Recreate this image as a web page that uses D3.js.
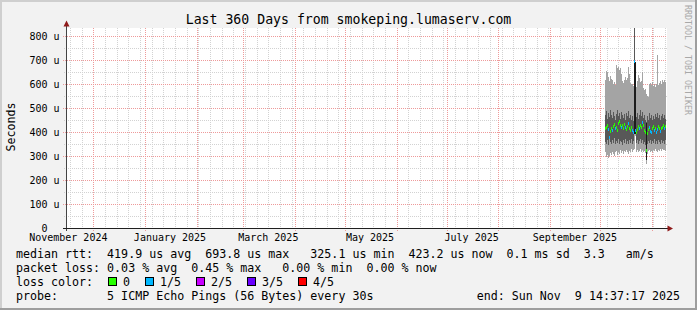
<!DOCTYPE html>
<html>
<head>
<meta charset="utf-8">
<script src="https://cdn.jsdelivr.net/npm/d3@7"></script>
<style>
body { margin: 0; background: #f2f2f2; }
svg text { font-family: "DejaVu Sans Mono", monospace; white-space: pre; }
</style>
</head>
<body>
<div class="chart"></div>
<script>
var endTime = new Date(2025, 10, 9, 14, 37, 17);
var startTime = new Date(endTime.getTime() - 360 * 86400000);
// first smoke column and the width of one consolidated step (14.4 h)
var smokeStart = new Date(2025, 9, 4, 0, 13);
var stepMs = 51840000;

// values in microseconds, one per step
var outerHi = [617, 655, 648, 630, 612, 635, 622, 618, 600, 608,
    596, 678, 665, 672, 660, 668, 640, 612, 604, 618,
    630, 615, 625, 672, 640, 605, 598, 602, 590, 833.3,
    590, 588, 612, 638, 625, 608, 612, 652, 585, 575,
    580, 560, 550, 545, 600, 606, 595, 610, 590, 598,
    588, 602, 720, 596, 605, 612, 598, 615, 608, 618, 610];
var innerHi = [470, 488, 455, 478, 462, 490, 470, 458, 482, 466,
    450, 474, 492, 468, 478, 455, 485, 470, 460, 476,
    448, 480, 465, 488, 458, 470, 452, 466, 445, 833.3,
    470, 462, 478, 456, 472, 490, 465, 482, 458, 470,
    448, 440, 466, 452, 478, 460, 472, 448, 468, 455,
    474, 462, 480, 458, 470, 452, 468, 475, 460, 472, 456];
var median = [415, 422, 428, 412, 380, 405, 418, 410, 425, 432,
    415, 420, 410, 438, 444, 430, 422, 428, 415, 432,
    420, 412, 424, 436, 418, 410, 422, 408, 402, 693.8,
    408, 400, 412, 425, 418, 430, 420, 442, 428, 410,
    398, 325.1, 395, 412, 420, 405, 398, 415, 425, 410,
    418, 402, 412, 425, 418, 405, 415, 422, 428, 418, 423.2];
var innerLo = [360, 352, 368, 345, 372, 358, 350, 366, 356, 374,
    348, 362, 355, 370, 350, 364, 358, 346, 368, 355,
    372, 352, 362, 348, 366, 356, 370, 352, 362, 390,
    392, 355, 368, 350, 362, 372, 354, 366, 350, 360,
    345, 290, 350, 362, 355, 368, 350, 364, 356, 370,
    352, 362, 348, 366, 358, 352, 368, 356, 362, 350, 366];
var outerLo = [318, 296, 305, 290, 300, 312, 305, 318, 308, 300,
    315, 322, 305, 318, 310, 325, 312, 320, 308, 322,
    315, 326, 318, 310, 322, 316, 328, 318, 325, 330,
    385, 318, 326, 315, 322, 330, 318, 325, 316, 320,
    312, 268, 308, 320, 325, 315, 322, 318, 326, 320,
    330, 322, 318, 326, 320, 328, 322, 330, 324, 326, 320];
// lost pings out of 5 for each step
var lossIdx = [0, 0, 0, 1, 1, 0, 0, 1, 0, 0,
    1, 0, 0, 0, 0, 0, 1, 0, 0, 0,
    1, 0, 0, 1, 0, 0, 0, 1, 1, 1,
    1, 0, 0, 0, 1, 0, 0, 1, 0, 0,
    0, 0, 0, 0, 1, 1, 1, 0, 0, 1,
    0, 1, 1, 0, 0, 1, 0, 0, 0, 1, 0];

// steps where the smoke goes black
var peakCols = [29, 30, 41];
var peakLo = [392, 392, 283];
var peakHi = [693.8, 690, 437];

var yTicks = [0, 100, 200, 300, 400, 500, 600, 700, 800];
var yTickLabels = ["0  ", "100 u", "200 u", "300 u", "400 u", "500 u", "600 u", "700 u", "800 u"];
var monthLabels = ["November 2024", "January 2025", "March 2025", "May 2025", "July 2025", "September 2025"];

var lossNames = ["0", "1/5", "2/5", "3/5", "4/5"];
var lossColors = ["#26ff00", "#00b8ff", "#c800ff", "#6a00ff", "#ff0000"];

var title = "Last 360 Days from smokeping.lumaserv.com";
var legendLines = [
    "median rtt:  419.9 us avg  693.8 us max   325.1 us min  423.2 us now  0.1 ms sd  3.3   am/s",
    "packet loss: 0.03 % avg  0.45 % max   0.00 % min  0.00 % now",
    "loss color:",
    "probe:       5 ICMP Echo Pings (56 Bytes) every 30s"
];
var endLabel = "end: Sun Nov  9 14:37:17 2025";

var W = 697, H = 310;
var plotL = 66, plotR = 666, plotT = 28, plotB = 228;

var svg = d3.select(".chart")
    .append("svg")
    .attr("width", W)
    .attr("height", H)

svg.append("rect")
    .attr("width", W)
    .attr("height", H)
    .attr("fill", "#f2f2f2")

// frame
svg.append("rect").attr("x", 0).attr("y", 0).attr("width", W).attr("height", 2).attr("fill", "#cfcfcf")
svg.append("rect").attr("x", 0).attr("y", 0).attr("width", 2).attr("height", H).attr("fill", "#cfcfcf")
svg.append("rect").attr("x", 0).attr("y", H - 2).attr("width", W).attr("height", 2).attr("fill", "#9e9e9e")
svg.append("rect").attr("x", W - 2).attr("y", 0).attr("width", 2).attr("height", H).attr("fill", "#9e9e9e")

svg.append("rect")
    .attr("x", plotL)
    .attr("y", plotT)
    .attr("width", plotR - plotL + 1)
    .attr("height", plotB - plotT)
    .attr("fill", "white")

var x = d3.scaleTime()
    .domain([startTime, endTime])
    .range([plotL, plotR])

var y = d3.scaleLinear()
    .domain([0, d3.max(outerHi)])
    .range([plotB, plotT])

// grid
var minorY = d3.range(50, y.domain()[1], 100);
svg.selectAll(".minorY")
    .data(minorY)
    .enter().append("line")
    .attr("x1", plotL - 2)
    .attr("x2", plotR + 1)
    .attr("y1", function(d) { return Math.round(y(d)) + 0.5; })
    .attr("y2", function(d) { return Math.round(y(d)) + 0.5; })
    .attr("stroke", "#d2d2d2")
    .attr("stroke-dasharray", "1,1")

var weeks = d3.timeSunday.range(startTime, endTime);
svg.selectAll(".minorX")
    .data(weeks)
    .enter().append("line")
    .attr("x1", function(d) { return Math.round(x(d)) + 0.5; })
    .attr("x2", function(d) { return Math.round(x(d)) + 0.5; })
    .attr("y1", plotT)
    .attr("y2", plotB + 2)
    .attr("stroke", "#d2d2d2")
    .attr("stroke-dasharray", "1,1")

svg.selectAll(".majorY")
    .data(yTicks.slice(1))
    .enter().append("line")
    .attr("x1", plotL - 3)
    .attr("x2", plotR + 1)
    .attr("y1", function(d) { return Math.round(y(d)) + 0.5; })
    .attr("y2", function(d) { return Math.round(y(d)) + 0.5; })
    .attr("stroke", "#ee9a9a")
    .attr("stroke-dasharray", "1,1")

var months = d3.timeMonth.range(startTime, endTime);
svg.selectAll(".majorX")
    .data(months)
    .enter().append("line")
    .attr("x1", function(d) { return Math.round(x(d)) + 0.5; })
    .attr("x2", function(d) { return Math.round(x(d)) + 0.5; })
    .attr("y1", plotT)
    .attr("y2", plotB + 3)
    .attr("stroke", "#ee9a9a")
    .attr("stroke-dasharray", "1,1")

// smoke
function colX(i) { return Math.round(x(new Date(smokeStart.getTime() + i * stepMs))); }
function colW(i) { return Math.max(1, colX(i + 1) - colX(i)); }

var smoke = svg.append("g").attr("shape-rendering", "crispEdges");

smoke.selectAll(".outer")
    .data(outerHi)
    .enter().append("rect")
    .attr("x", function(d, i) { return colX(i); })
    .attr("width", function(d, i) { return colW(i); })
    .attr("y", function(d) { return y(d); })
    .attr("height", function(d, i) { return y(outerLo[i]) - y(d); })
    .attr("fill", "#a4a4a4")

smoke.selectAll(".inner")
    .data(innerHi)
    .enter().append("rect")
    .attr("x", function(d, i) { return colX(i); })
    .attr("width", function(d, i) { return colW(i); })
    .attr("y", function(d) { return y(d); })
    .attr("height", function(d, i) { return y(innerLo[i]) - y(d); })
    .attr("fill", "#585858")

smoke.selectAll(".peak")
    .data(peakCols)
    .enter().append("rect")
    .attr("x", function(d) { return colX(d); })
    .attr("width", function(d) { return colW(d); })
    .attr("y", function(d, i) { return y(peakHi[i]); })
    .attr("height", function(d, i) { return y(peakLo[i]) - y(peakHi[i]); })
    .attr("fill", "#1c1c1c")

smoke.selectAll(".median")
    .data(median)
    .enter().append("rect")
    .attr("x", function(d, i) { return colX(i); })
    .attr("width", function(d, i) { return colW(i); })
    .attr("y", function(d) { return Math.round(y(d)) - 1; })
    .attr("height", 3)
    .attr("fill", function(d, i) { return lossColors[lossIdx[i]]; })

// axes
svg.append("line")
    .attr("x1", plotL + 0.5).attr("x2", plotL + 0.5)
    .attr("y1", plotB + 3).attr("y2", plotT - 2)
    .attr("stroke", "#444")
svg.append("line")
    .attr("x1", plotL - 3).attr("x2", plotR + 2)
    .attr("y1", plotB + 0.5).attr("y2", plotB + 0.5)
    .attr("stroke", "#1f1f1f")
svg.append("path")
    .attr("d", "M63.5,26.5 L69.5,26.5 L66.5,20.5 Z")
    .attr("fill", "#8f1a1a")
svg.append("path")
    .attr("d", "M667.5,225.5 L667.5,231.5 L673,228.5 Z")
    .attr("fill", "#8f1a1a")

svg.selectAll(".yLabel")
    .data(yTicks)
    .enter().append("text")
    .attr("x", 59.5)
    .attr("y", function(d) { return y(d) + 3.7; })
    .text(function(d, i) { return yTickLabels[i]; })
    .style("text-anchor", "end")
    .style("font-size", "10px")

var parseMonth = d3.timeParse("%B %Y");
svg.selectAll(".xLabel")
    .data(monthLabels)
    .enter().append("text")
    .attr("x", function(d) { return x(d3.timeDay.offset(parseMonth(d), 15)); })
    .attr("y", 240.5)
    .text(function(d) { return d; })
    .style("text-anchor", "middle")
    .style("font-size", "10px")

svg.append("text")
    .attr("x", W / 2)
    .attr("y", 24)
    .text(title)
    .style("text-anchor", "middle")
    .style("font-size", "13.2px")

svg.append("text")
    .attr("transform", "translate(14.5,127) rotate(-90)")
    .text("Seconds")
    .style("text-anchor", "middle")
    .style("font-size", "11.6px")

svg.append("text")
    .attr("transform", "translate(685,5) rotate(90)")
    .text("RRDTOOL / TOBI OETIKER")
    .attr("fill", "#a8a8a8")
    .style("font-size", "8.3px")

// legend
svg.selectAll(".legendLine")
    .data(legendLines)
    .enter().append("text")
    .attr("x", 16)
    .attr("y", function(d, i) { return 258 + i * 14; })
    .text(function(d) { return d; })
    .style("font-size", "11.65px")

svg.append("text")
    .attr("x", 680)
    .attr("y", 300)
    .text(endLabel)
    .style("text-anchor", "end")
    .style("font-size", "11.65px")

var cursor = 108;
lossNames.forEach(function(name, i) {
    svg.append("rect")
        .attr("x", cursor + 0.5)
        .attr("y", 277.5)
        .attr("width", 8)
        .attr("height", 8)
        .attr("fill", lossColors[i])
        .attr("stroke", "black")
    svg.append("text")
        .attr("x", cursor + 15)
        .attr("y", 286)
        .text(name)
        .style("font-size", "11.65px")
    cursor = cursor + 15 + name.length * 7 + 15;
});
</script>
</body>
</html>
